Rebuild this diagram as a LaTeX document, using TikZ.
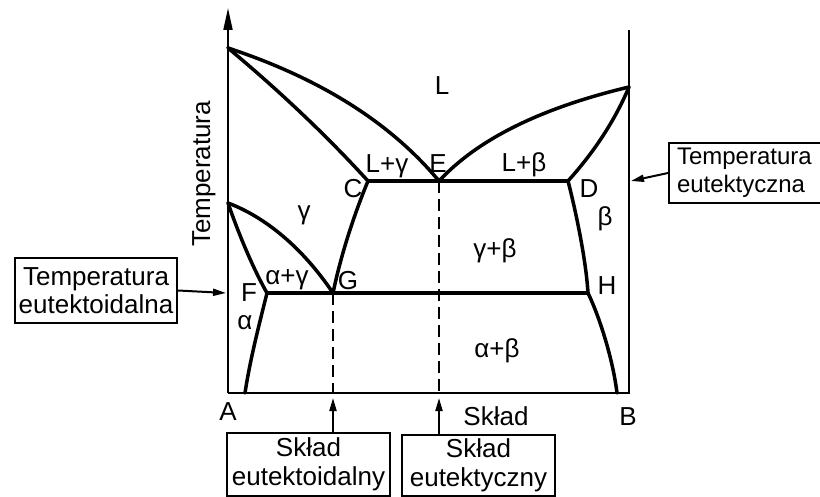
\documentclass[tikz,border=0pt]{standalone}
\usepackage{fontspec}
\setmainfont{Liberation Sans}
\usetikzlibrary{arrows.meta}
\tikzset{
  ax/.style={line width=2pt},
  ph/.style={line width=3.5pt, line join=round, line cap=round},
  dsh/.style={line width=2pt, dash pattern=on 12pt off 6pt},
  lbl/.style={anchor=base, inner sep=0pt, font=\fontsize{26}{29}\selectfont},
  boxed/.style={draw, line width=2pt, align=center, inner sep=0pt, font=\fontsize{26}{28.5}\selectfont},
  arr/.style={line width=2pt, -{Triangle[length=13pt,width=7pt]}}
}
\begin{document}
\begin{tikzpicture}[x=1pt,y=-1pt]
\useasboundingbox (0,0) rectangle (820,497);
\clip (0,0) rectangle (820,497);
% key points
\coordinate (O) at (228,393);
\coordinate (Ytop) at (228,8);
\coordinate (Rb) at (629,393);
\coordinate (Rt) at (629,30);
\coordinate (MA) at (228,48);
\coordinate (MB) at (629,87);
\coordinate (C) at (368,181);
\coordinate (E) at (439,181);
\coordinate (D) at (568,181);
\coordinate (T0) at (228,203);
\coordinate (F) at (267,293);
\coordinate (G) at (333,293);
\coordinate (H) at (588,293);
\coordinate (Fb) at (245,393);
\coordinate (Hb) at (617,393);
\coordinate (Gb) at (333,393);
\coordinate (Eb) at (439,393);
\coordinate (Gax) at (333,398);
\coordinate (Eax) at (439,398);
\coordinate (Lax) at (226,293);
\coordinate (Rax) at (631,181);
% axes
\draw[ax] (O) -- (Rb) -- (Rt);
\draw[ax, -{Triangle[length=22pt,width=9pt]}] (O) -- (Ytop);
% phase boundaries
\draw[ph] (MA) .. controls (319,78) and (390,122) .. (E);
\draw[ph] (MA) .. controls (300,108) and (347,158) .. (C);
\draw[ph] (E) .. controls (478,139) and (541,108) .. (MB);
\draw[ph] (MB) .. controls (616,118) and (596,150) .. (D);
\draw[ph] (C) -- (D);
\draw[ph] (D) .. controls (576,212) and (586,260) .. (H);
\draw[ph] (H) .. controls (600,318) and (613,360) .. (Hb);
\draw[ph] (F) -- (H);
\draw[ph] (T0) .. controls (265,217) and (302,247) .. (G);
\draw[ph] (T0) .. controls (240,238) and (255,272) .. (F);
\draw[ph] (F) .. controls (259,325) and (250,360) .. (Fb);
\draw[ph] (G) .. controls (342,250) and (356,210) .. (C);
% dashed
\draw[dsh] (G) -- (Gb);
\draw[dsh] (E) -- (Eb);
% labels
\node[lbl, rotate=90] (temp) at (210,174) {Temperatura};
\node[lbl] (lL) at (442,95) {L};
\node[lbl] (lLg) at (387,173) {L+γ};
\node[lbl] (lE) at (438,173) {E};
\node[lbl] (lLb) at (524,172) {L+β};
\node[lbl] (lC) at (353,198) {C};
\node[lbl] (lD) at (589,198) {D};
\node[lbl] (lg) at (304,220) {γ};
\node[lbl] (lb) at (605,226) {β};
\node[lbl] (lgb) at (495,258) {γ+β};
\node[lbl] (lag) at (287,285) {α+γ};
\node[lbl] (lG) at (348,290) {G};
\node[lbl] (lF) at (249,302) {F};
\node[lbl] (la) at (245,330) {α};
\node[lbl] (lH) at (607,295) {H};
\node[lbl] (lab) at (497,357) {α+β};
\node[lbl] (lA) at (228,420) {A};
\node[lbl] (lS) at (496,425) {Skład};
\node[lbl] (lB) at (628,425) {B};
% boxes
\node[boxed, minimum width=162pt, minimum height=65pt] (bL) at (96,290.5) {Temperatura\\eutektoidalna};
\node[boxed, anchor=west, text width=150pt, align=left, inner xsep=8pt, minimum height=60pt,
      font=\fontsize{24}{28}\selectfont] (bR) at (668,173) {Temperatura\\eutektyczna};
\node[boxed, minimum width=163pt, minimum height=63pt] (b1) at (308.5,464.5) {Skład\\eutektoidalny};
\node[boxed, minimum width=153pt, minimum height=61pt] (b2) at (478.5,465.5) {Skład\\eutektyczny};
% arrows
\draw[arr] (bL.east) -- (Lax);
\draw[arr] (bR.west) -- (Rax);
\draw[arr] (b1.north -| Gax) -- (Gax);
\draw[arr] (b2.north -| Eax) -- (Eax);
\end{tikzpicture}
\end{document}
